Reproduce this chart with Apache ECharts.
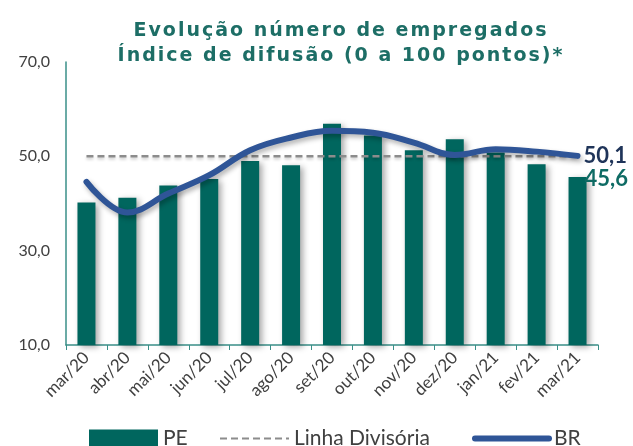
<!DOCTYPE html>
<html><head><meta charset="utf-8">
<script src="https://cdn.jsdelivr.net/npm/echarts@6/dist/echarts.min.js"></script>
<style>html,body{margin:0;padding:0;background:#fff}#c{width:633px;height:446px}</style>
</head><body><div id="c"></div>
<script>
const categories = ['mar/20','abr/20','mai/20','jun/20','jul/20','ago/20','set/20','out/20','nov/20','dez/20','jan/21','fev/21','mar/21'];
const pe = [40.2, 41.2, 43.8, 45.2, 49.0, 48.1, 56.9, 54.4, 51.3, 53.6, 50.8, 48.3, 45.6];
const br = [44.6, 38.1, 42.1, 46.0, 51.3, 54.0, 55.4, 55.0, 52.9, 50.3, 51.5, 51.0, 50.1];
const divisoria = [50, 50, 50, 50, 50, 50, 50, 50, 50, 50, 50, 50, 50];
const yTicks = [10, 30, 50, 70];
const titleLines = ['Evolução número de empregados', 'Índice de difusão (0 a 100 pontos)*'];

// letter spacing for the title font (canvas supports ctx.letterSpacing)
(function () {
  const P = CanvasRenderingContext2D.prototype;
  const ft = P.fillText, mt = P.measureText;
  function ls(ctx) { if ('letterSpacing' in ctx) ctx.letterSpacing = (ctx.font || '').indexOf('DejaVu') >= 0 ? '2px' : '0px'; }
  P.fillText = function () { ls(this); return ft.apply(this, arguments); };
  P.measureText = function () { ls(this); return mt.apply(this, arguments); };
})();

const fmt = v => v.toFixed(1).replace('.', ',');
const FONT = 'Lato';
const legendText = {fontFamily: FONT, fontSize: 21, color: '#404040'};
const chart = echarts.init(document.getElementById('c'), null, {renderer: 'canvas'});
chart.setOption({
  animation: false,
  title: {
    text: titleLines.join('\n'),
    left: 336, top: 14, textAlign: 'center',
    textStyle: {fontFamily: 'DejaVu Sans', fontWeight: 'bold', fontSize: 19, lineHeight: 25, color: '#1d6e66'}
  },
  grid: {left: 66, right: 35, top: 62, bottom: 101},
  legend: [
    {left: 89, top: 428, padding: 0, itemWidth: 69, itemHeight: 18, textStyle: legendText,
      data: [{name: 'PE', icon: 'rect'}]},
    {left: 219, top: 428, padding: 0, itemWidth: 69, itemHeight: 18, textStyle: legendText,
      data: [{name: 'Linha Divisória', itemStyle: {opacity: 0}}]},
    {left: 472, top: 428, padding: 0, itemWidth: 74, itemHeight: 18, textStyle: legendText,
      data: [{name: 'BR', itemStyle: {opacity: 0}, lineStyle: {width: 6, cap: 'round'}}]}
  ],
  xAxis: {
    type: 'category', data: categories, boundaryGap: true,
    axisLine: {lineStyle: {color: '#3a8f88', width: 1.5}},
    axisTick: {show: true, length: 5, lineStyle: {color: '#3a8f88'}},
    axisLabel: {rotate: 45, fontFamily: FONT, fontSize: 17, color: '#404040', margin: 10, interval: 0}
  },
  yAxis: {
    type: 'value', min: yTicks[0], max: yTicks[yTicks.length - 1], interval: 20,
    axisLine: {show: true, lineStyle: {color: '#3a8f88', width: 1.5}},
    axisTick: {show: false},
    splitLine: {show: false},
    axisLabel: {fontFamily: FONT, fontSize: 16, color: '#404040', margin: 16, formatter: v => fmt(v)}
  },
  series: [
    {
      name: 'PE', type: 'bar', data: pe.map((v, i) => i === pe.length - 1 ? {
        value: v,
        label: {show: true, position: ['100%', 0], align: 'left', verticalAlign: 'middle', offset: [-2, 2],
          formatter: p => fmt(p.value), fontFamily: FONT, fontWeight: 'bold', fontSize: 22, color: '#0e6b64'}
      } : v),
      barWidth: 18,
      itemStyle: {color: '#00665e', shadowColor: 'rgba(0,0,0,0.35)', shadowBlur: 6, shadowOffsetX: 3, shadowOffsetY: 2},
      z: 2
    },
    {
      name: 'Linha Divisória', type: 'line', data: divisoria, symbol: 'none',
      lineStyle: {color: '#8c8c8c', width: 2.5, type: [7, 4], shadowColor: 'rgba(0,0,0,0.2)', shadowBlur: 3, shadowOffsetY: 2},
      itemStyle: {color: '#8c8c8c'},
      z: 3
    },
    {
      name: 'BR', type: 'line', data: br.map((v, i) => i === br.length - 1 ? {
        value: v,
        label: {show: true, position: 'right', distance: 6, formatter: p => fmt(p.value),
          fontFamily: FONT, fontWeight: 'bold', fontSize: 22, color: '#1f3459'}
      } : v),
      smooth: 0.4, symbol: 'circle', symbolSize: 0, showSymbol: true,
      lineStyle: {color: '#2f5597', width: 6, cap: 'round', shadowColor: 'rgba(0,0,0,0.3)', shadowBlur: 5, shadowOffsetX: 2, shadowOffsetY: 3},
      itemStyle: {color: '#2f5597'},
      z: 4
    }
  ]
});
</script></body></html>
